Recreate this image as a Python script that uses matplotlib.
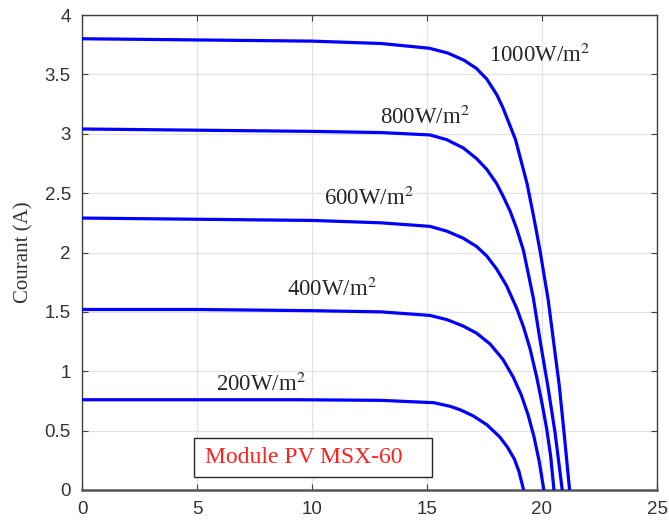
import matplotlib
matplotlib.use("Agg")
import matplotlib.pyplot as plt
from matplotlib.patches import Rectangle

plt.rcParams["mathtext.fontset"] = "stix"

# I-V characteristics of the MSX-60 module at several irradiance levels
v_1000 = [0, 5, 10, 13, 15.1, 15.9, 16.6, 17.15, 17.6, 18.03, 18.3, 18.85, 19.35, 19.62, 19.91, 20.27, 20.55, 20.75, 20.95, 21.2]
i_1000 = [3.80, 3.79, 3.78, 3.76, 3.72, 3.68, 3.62, 3.55, 3.46, 3.33, 3.22, 2.95, 2.58, 2.32, 2.02, 1.60, 1.18, 0.88, 0.50, 0.0]

v_800 = [0, 5, 10, 13, 15.13, 15.86, 16.58, 17.16, 17.6, 18.03, 18.32, 18.61, 18.9, 19.19, 19.62, 19.95, 20.25, 20.57, 20.88]
i_800 = [3.04, 3.03, 3.02, 3.01, 2.99, 2.95, 2.88, 2.79, 2.70, 2.58, 2.47, 2.35, 2.20, 2.02, 1.62, 1.22, 0.88, 0.48, 0.0]

v_600 = [0, 5, 10, 13, 15.13, 15.86, 16.58, 17.16, 17.6, 18.03, 18.46, 18.9, 19.2, 19.48, 19.77, 20.0, 20.2, 20.38, 20.52]
i_600 = [2.29, 2.28, 2.27, 2.25, 2.22, 2.18, 2.12, 2.05, 1.97, 1.86, 1.72, 1.53, 1.37, 1.19, 0.95, 0.73, 0.52, 0.28, 0.0]

v_400 = [0, 5, 10, 13, 15.13, 15.86, 16.58, 17.16, 17.74, 18.3, 18.75, 19.1, 19.4, 19.65, 19.88, 20.08]
i_400 = [1.52, 1.52, 1.51, 1.50, 1.47, 1.435, 1.38, 1.32, 1.23, 1.10, 0.95, 0.80, 0.63, 0.45, 0.24, 0.0]

v_200 = [0, 5, 9.5, 13, 15.3, 16.0, 16.45, 17.0, 17.6, 18.17, 18.5, 18.8, 19.0, 19.2]
i_200 = [0.76, 0.76, 0.76, 0.755, 0.735, 0.705, 0.675, 0.625, 0.55, 0.445, 0.36, 0.26, 0.155, 0.0]

curve_v = [v_1000, v_800, v_600, v_400, v_200]
curve_i = [i_1000, i_800, i_600, i_400, i_200]

irradiance_labels = ["1000W/m$^2$", "800W/m$^2$", "600W/m$^2$", "400W/m$^2$", "200W/m$^2$"]
label_x = [19.89, 14.91, 12.47, 10.89, 7.78]
label_y = [3.60, 3.08, 2.40, 1.63, 0.83]

x_ticks = [0, 5, 10, 15, 20, 25]
y_ticks = [0, 0.5, 1, 1.5, 2, 2.5, 3, 3.5, 4]
y_tick_labels = ["0", "0.5", "1", "1.5", "2", "2.5", "3", "3.5", "4"]

fig = plt.figure(figsize=(6.69, 5.25), dpi=100)
ax = fig.add_axes([82 / 669, 1 - 490 / 525, (657 - 82) / 669, (490 - 15) / 525])

for v, i in zip(curve_v, curve_i):
    ax.plot(v, i, color="#0000ff", linewidth=2.3, solid_capstyle="butt",
            solid_joinstyle="round", zorder=3)

for txt, x, y in zip(irradiance_labels, label_x, label_y):
    ax.text(x, y, txt, ha="center", va="baseline", fontsize=16.5,
            family="Liberation Serif", color="#262626", zorder=4)

ax.add_patch(Rectangle((4.87, 0.107), 15.23 - 4.87, 0.435 - 0.107,
                       facecolor="white", edgecolor="#262626", linewidth=1.0, zorder=4))
ax.text(5.35, 0.275, "Module PV MSX-60", ha="left", va="center", fontsize=17,
        family="Liberation Serif", color="#ff2020", zorder=5)

ax.set_xlim(0, 25)
ax.set_ylim(0, 4)
ax.set_xticks(x_ticks)
ax.set_yticks(y_ticks)
ax.set_yticklabels(y_tick_labels)
ax.grid(True, color="#e3e3e3", linewidth=0.9, zorder=0)
ax.set_axisbelow(True)

ax.tick_params(direction="in", top=True, right=True, length=4, width=0.8,
               color="#404040", labelcolor="#333333", labelsize=13.5, pad=8)
for lbl in ax.get_xticklabels() + ax.get_yticklabels():
    lbl.set_family("Liberation Sans")
for s in ax.spines.values():
    s.set_color("#404040")
    s.set_linewidth(1.0)
ax.spines["bottom"].set_linewidth(1.8)
ax.spines["bottom"].set_color("#555555")

ax.set_ylabel("Courant (A)", fontsize=15, family="Liberation Serif", color="#333333", labelpad=8)

fig.savefig("out.png", dpi=100)
